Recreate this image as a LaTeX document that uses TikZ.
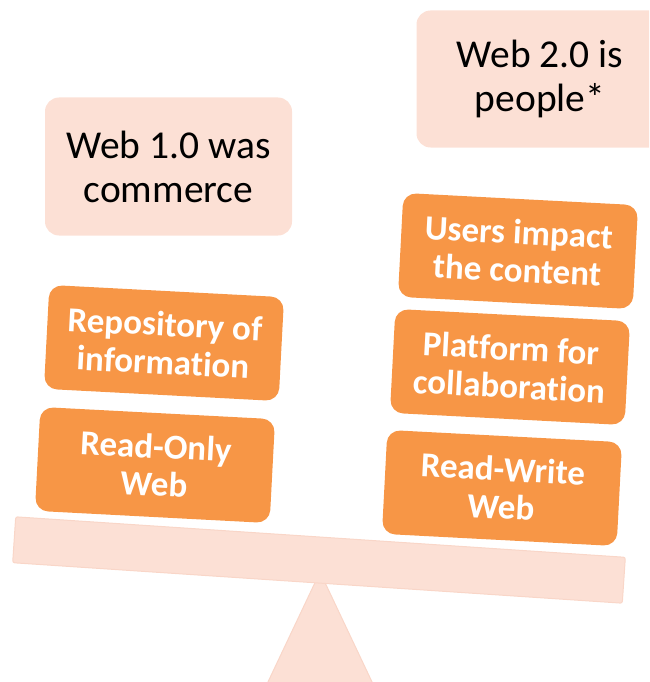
\documentclass[tikz,border=0pt]{standalone}
\usepackage{fontspec}
\setmainfont{Carlito}[Ligatures=NoCommon]
\definecolor{orangebox}{HTML}{F79646}
\definecolor{pinkbox}{HTML}{FCE0D5}
\definecolor{pinkedge}{HTML}{F9D6C8}
\begin{document}
\begin{tikzpicture}[x=1pt,y=-1pt,
  orangestep/.style={fill=orangebox, rounded corners=13pt, minimum width=235pt, minimum height=104pt,
    text=white, align=center, font=\fontsize{35}{38}\selectfont\bfseries, inner sep=0pt, rotate=-3},
  pinkstep/.style={fill=pinkbox, rounded corners=14pt, minimum width=247pt, minimum height=138pt,
    text=black, align=center, font=\fontsize{39.5}{44}\selectfont, inner sep=0pt}]
\useasboundingbox (0,0) rectangle (649,682);
\clip (0,0) rectangle (649,682);
% fulcrum
\coordinate (apex) at (320,572);
\coordinate (bl) at (267,684);
\coordinate (br) at (373,684);
\fill[pinkbox, draw=pinkedge, line width=1pt] (apex) -- (bl) -- (br) -- cycle;
% beam
\node[fill=pinkbox, draw=pinkedge, line width=1pt, rounded corners=2pt, minimum width=611pt, minimum height=46pt, rotate=-3.8, inner sep=0pt] (beam) at (319,560) {};
% top pink boxes
\node[pinkstep] (w1) at (168.5,166.5) {Web 1.0 was\\commerce};
\node[pinkstep, minimum height=137pt] (w2) at (540,79) {Web 2.0 is\\people*};
% left stack
\node[orangestep] (repo) at (164,343) {Repository of\\information};
\node[orangestep] (ro) at (155,465) {Read-Only\\Web};
% right stack
\node[orangestep] (users) at (518,251) {Users impact\\the content};
\node[orangestep] (plat) at (510,367) {Platform for\\collaboration};
\node[orangestep] (rw) at (502,488) {Read-Write\\Web};
\end{tikzpicture}
\end{document}
